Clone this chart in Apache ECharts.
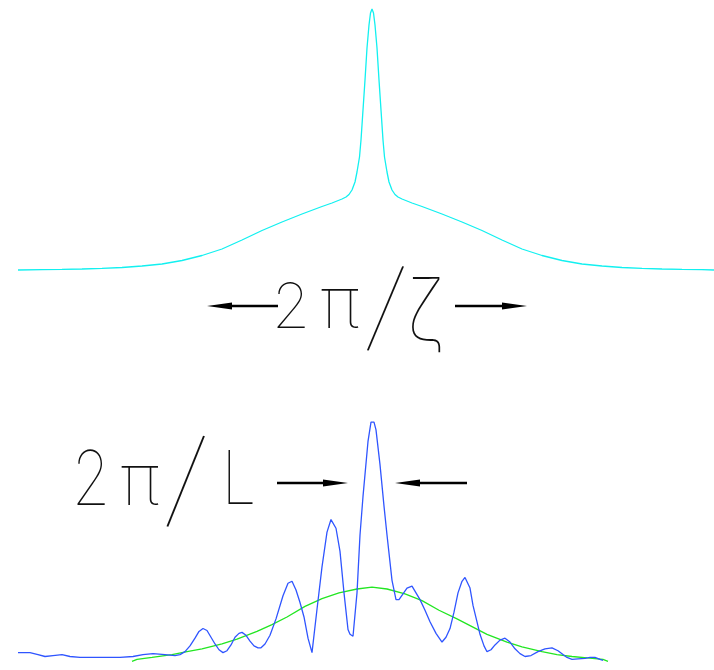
<!DOCTYPE html>
<html>
<head>
<meta charset="utf-8">
<script src="https://cdn.jsdelivr.net/npm/echarts@6/dist/echarts.min.js"></script>
<style>
  html, body { margin: 0; padding: 0; background: #fff; }
  #chart { width: 714px; height: 670px; }
</style>
</head>
<body>
<div id="chart"></div>
<script>
// top: broad part + sharp central peak (q in arbitrary units)
const cyanQ = [-354, -330, -310, -290, -270, -250, -230, -210, -190, -170, -150, -130, -110, -90, -70, -50, -40, -30, -26, -23, -20, -17, -15, -12.5, -11, -9, -7, -5, -3, -1.5, 0,
  1.5, 3, 5, 7, 9, 11, 12.5, 15, 17, 20, 23, 26, 30, 40, 50, 70, 90, 110, 130, 150, 170, 190, 210, 230, 250, 270, 290, 310, 330, 342];
const cyanV = [0, 0.3, 0.6, 1, 1.6, 2.5, 4, 6, 9.5, 14.5, 21, 30, 39.5, 48, 56, 63.5, 67, 71, 73, 75.5, 80, 88, 98, 113, 130, 160, 190, 222, 245, 257, 261,
  257, 245, 222, 190, 160, 130, 113, 98, 88, 80, 75.5, 73, 71, 67, 63.5, 56, 48, 39.5, 30, 21, 14.5, 9.5, 6, 4, 2.5, 1.6, 1, 0.6, 0.3, 0];

// bottom: oscillating pattern (blue)
const blueQ = [-354, -342, -334, -327, -319, -310, -302, -292, -272, -252, -239, -229, -219, -207, -197, -192,
  -187, -182, -177, -173, -169, -165, -161, -157, -153, -149, -145, -141, -137, -133, -130, -126, -122, -118, -114, -111,
  -107, -102, -96, -89, -84, -80, -76, -72, -68, -64, -60, -59, -55, -50, -45, -41, -39, -36, -32, -28, -24, -22, -19,
  -15, -12, -9, -4, -1, 0, 2, 4, 8, 12, 15, 20, 24, 27, 31, 35, 37, 40, 44, 48, 53, 58, 64, 70, 74, 78, 82, 86, 90, 93, 95,
  98, 101, 105, 108, 112, 115, 119, 123, 128, 133, 138, 143, 148, 153, 159, 166, 173, 180, 186, 191, 195, 200, 206, 213, 218, 223, 228, 231];
const blueV = [8, 8, 6, 4, 5, 6, 4, 3, 3, 3, 4, 6, 7, 6, 5, 6,
  9, 15, 23, 30, 33, 31, 24, 17, 11, 8, 10, 16, 24, 28, 29, 26, 20, 15, 13, 13,
  17, 26, 43, 67, 80, 82, 73, 60, 45, 23, 8, 7, 53, 97, 133, 146, 148, 137, 113, 70, 32, 27, 25,
  70, 130, 170, 227, 247, 249, 247, 239, 203, 160, 130, 83, 63, 63, 69, 75, 77, 77, 70, 63, 52, 40, 28, 19, 24, 33, 50, 70, 82, 86, 85,
  75, 57, 40, 27, 15, 9, 11, 16, 21, 23, 19, 12, 7, 4, 5, 9, 12, 13, 10, 6, 3, 1, 1.5, 2, 3, 3, 1, 0];

// bottom: smooth envelope (green)
const greenQ = [-240, -235, -220, -200, -185, -170, -150, -135, -115, -100, -85, -67, -50, -33, -15, 0,
  15, 33, 50, 67, 85, 100, 115, 135, 150, 170, 185, 200, 215, 231, 236];
const greenV = [-1, 1, 3, 6, 9, 12, 17, 22, 30, 37, 45, 56, 64, 70, 74, 76,
  74, 69, 62, 52, 43, 35, 27, 19, 14, 9, 6, 4, 2.5, 1, -1];

const zip = (a, b) => a.map((v, i) => [v, b[i]]);

const chart = echarts.init(document.getElementById('chart'), null, { renderer: 'canvas' });

const glyphFont = 'Inter';
function glyph(text, x, y, size, opts) {
  opts = opts || {};
  return {
    type: 'text',
    x: x, y: y,
    scaleY: opts.sy || 1,
    rotation: opts.rot || 0,
    style: {
      text: text,
      x: 0, y: 0,
      font: '100 ' + size + 'px ' + glyphFont,
      fill: '#111',
      textAlign: 'center',
      textVerticalAlign: opts.va || 'bottom'
    }
  };
}
function arrow(x1, x2, y) {
  // line from x1 to x2, head at x2
  const dir = x2 > x1 ? -1 : 1;
  return [
    { type: 'line', shape: { x1: x1, y1: y, x2: x2 + dir * 20, y2: y }, style: { stroke: '#000', lineWidth: 2.4 } },
    { type: 'polygon', shape: { points: [[x2, y], [x2 + dir * 25, y - 3.5], [x2 + dir * 25, y + 3.5]] }, style: { fill: '#000' } }
  ];
}

const option = {
  animation: false,
  backgroundColor: '#fff',
  grid: [
    { left: 0, right: 0, top: 0, height: 280 },
    { left: 0, right: 0, top: 400, height: 280 }
  ],
  xAxis: [
    { type: 'value', gridIndex: 0, min: -372, max: 342, show: false },
    { type: 'value', gridIndex: 1, min: -372, max: 342, show: false }
  ],
  yAxis: [
    { type: 'value', gridIndex: 0, min: -10, max: 270, show: false },
    { type: 'value', gridIndex: 1, min: -10, max: 270, show: false }
  ],
  series: [
    {
      type: 'line', xAxisIndex: 0, yAxisIndex: 0, data: zip(cyanQ, cyanV),
      showSymbol: false, lineStyle: { color: '#12f0f0', width: 1.3 }, clip: false
    },
    {
      type: 'line', xAxisIndex: 1, yAxisIndex: 1, data: zip(greenQ, greenV),
      showSymbol: false, lineStyle: { color: '#22e622', width: 1.3 }
    },
    {
      type: 'line', xAxisIndex: 1, yAxisIndex: 1, data: zip(blueQ, blueV),
      showSymbol: false, lineStyle: { color: '#2f55ff', width: 1.3 }
    }
  ],
  graphic: [
    glyph('2', 291, 340, 62),
    glyph('π', 340, 342, 72),
    glyph('/', 385, 311, 76, { va: 'middle', rot: -0.2, sy: 1.35 }),
    glyph('ζ', 426, 315, 76, { va: 'middle', sy: 1.15 }),
    ...arrow(278, 207, 306),
    ...arrow(455, 527, 306),
    glyph('2', 91, 520, 62, { sy: 1.22 }),
    glyph('π', 140, 519, 72),
    glyph('/', 185, 484, 76, { va: 'middle', rot: -0.2, sy: 1.45 }),
    glyph('L', 239, 519, 62, { sy: 1.2 }),
    ...arrow(277, 348, 483),
    ...arrow(467, 395, 483)
  ]
};
chart.setOption(option);
</script>
</body>
</html>
